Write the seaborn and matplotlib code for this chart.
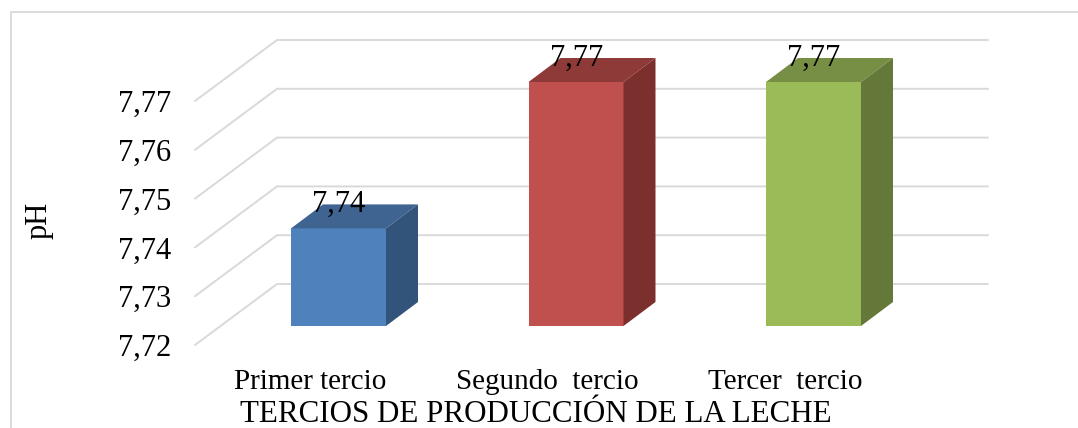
import matplotlib
matplotlib.use("Agg")
import matplotlib.pyplot as plt
from matplotlib.lines import Line2D
from matplotlib.patches import Polygon
from matplotlib.transforms import Affine2D, IdentityTransform
import seaborn as sns

categories = ["Primer tercio", "Segundo  tercio", "Tercer  tercio"]
values = [7.74, 7.77, 7.77]
value_labels = ["7,74", "7,77", "7,77"]
ticks = [7.72, 7.73, 7.74, 7.75, 7.76, 7.77]
tick_labels = ["7,72", "7,73", "7,74", "7,75", "7,76", "7,77"]
front_colors = ["#4F81BD", "#C0504D", "#9BBB59"]
top_colors = ["#3F6491", "#8E3A38", "#778F45"]
side_colors = ["#32547A", "#7B302E", "#64783A"]
base = 7.72
GRID = "#D9D9D9"

W, H = 1078, 428
sns.set_theme(style="white")
plt.rcParams["font.family"] = ["Liberation Serif", "DejaVu Serif"]

fig = plt.figure(figsize=(W / 100, H / 100), dpi=100)
L, R, B, T = 195, 988, 345, 40
ax = fig.add_axes([L / W, (H - B) / H, (R - L) / W, (B - T) / H])

sns.barplot(x=categories, y=values, hue=categories, palette=front_colors,
            width=0.4, legend=False, saturation=1, ax=ax, zorder=3)

PX_X, PX_Y = 237.5, 4880.0   # pixels per data unit
ax.set_xlim((L - 338.5) / PX_X, (R - 338.5) / PX_X)
ax.set_ylim(base, base + (B - T) / PX_Y)

# back wall: diagonal then horizontal line for each value
xl, xr = ax.get_xlim()
xb = xl + (277 - L) / PX_X
rise = 61 / PX_Y
for t in ticks:
    ax.plot([xl, xb, xr], [t, t + rise, t + rise], color=GRID, lw=1.4,
            zorder=1, clip_on=False, solid_joinstyle="miter")

# bars sit on a floor 19 px above the axis front edge, with 3-D faces
lift = Affine2D().translate(0, 19)
dx, dy = 32, 24
for p, v, ct, cs, lab in zip(list(ax.patches), values, top_colors, side_colors, value_labels):
    p.set_y(base)
    p.set_height(v - base)
    p.set_transform(ax.transData + lift)
    p.set_clip_on(False)
    p.set_edgecolor("none")
    x0, x1 = p.get_x(), p.get_x() + p.get_width()
    (a0, b0), (a1, b1) = ax.transData.transform([(x0, base), (x1, v)])
    b0 += 19
    b1 += 19
    ax.add_patch(Polygon([(a0, b1), (a1, b1), (a1 + dx, b1 + dy), (a0 + dx, b1 + dy)],
                         closed=True, fc=ct, ec="none", transform=IdentityTransform(),
                         zorder=3, clip_on=False))
    ax.add_patch(Polygon([(a1, b0), (a1 + dx, b0 + dy), (a1 + dx, b1 + dy), (a1, b1)],
                         closed=True, fc=cs, ec="none", transform=IdentityTransform(),
                         zorder=3, clip_on=False))
    ax.annotate(lab, xy=((a0 + a1) / 2 + 0.5, b1), xycoords=IdentityTransform(),
                xytext=(0, 24 * 0.72), textcoords="offset points",
                ha="center", va="center", fontsize=22, color="black",
                zorder=5, annotation_clip=False)

ax.set_yticks(ticks, tick_labels)
ax.tick_params(axis="y", length=0, pad=17, labelsize=22, labelcolor="black")
ax.set_xticks(range(3), categories)
ax.tick_params(axis="x", length=0, pad=17, labelsize=21, labelcolor="black")
for tl, shift in zip(ax.get_xticklabels(), [-28, -29, -28]):
    tl.set_transform(tl.get_transform() + Affine2D().translate(shift, 0))

ax.set_xlabel("TERCIOS DE PRODUCCIÓN DE LA LECHE", fontsize=22.3, color="black", va="center")
ax.xaxis.set_label_coords((536 - L) / (R - L), -(414 - B) / (B - T))
ax.set_ylabel("pH", fontsize=22, color="black", va="center")
ax.yaxis.set_label_coords((39 - L) / (R - L), (B - 220) / (B - T))

sns.despine(ax=ax, left=True, bottom=True, top=True, right=True)
ax.patch.set_alpha(0)

# chart frame (only top and left edges are in view)
fig.add_artist(Line2D([11 / W, 11 / W, 1], [0, 1 - 12 / H, 1 - 12 / H], color=GRID, lw=1.3,
                      transform=fig.transFigure))

fig.savefig("out.png", dpi=100, facecolor="white")
